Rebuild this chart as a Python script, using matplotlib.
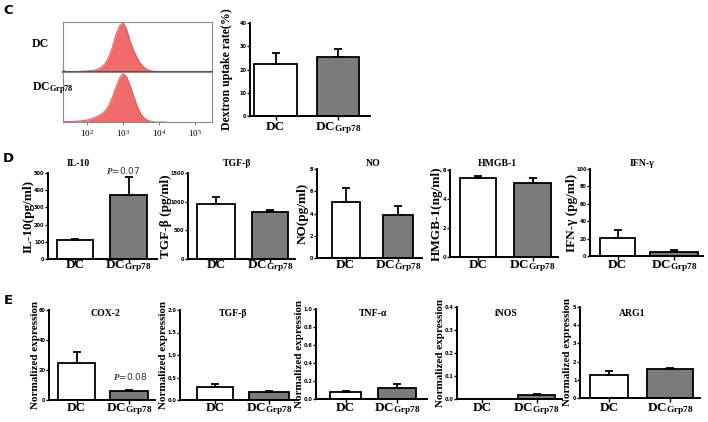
import matplotlib
matplotlib.use("Agg")
import matplotlib.pyplot as plt
import numpy as np

plt.rcParams['mathtext.fontset'] = 'custom'
plt.rcParams['mathtext.rm'] = 'Liberation Serif:bold'
plt.rcParams['mathtext.it'] = 'Liberation Serif:bold:italic'
plt.rcParams['mathtext.bf'] = 'Liberation Serif:bold'

# ---------------- data ----------------
groups = ["DC", r"DC$_{\mathregular{Grp78}}$"]

# flow histogram (log10 bin centres, normalised counts)
hist_log_bins = [1.3, 1.4, 1.5, 1.6, 1.7, 1.8, 1.9, 2.0, 2.1, 2.2, 2.3, 2.4, 2.5, 2.6,
                 2.7, 2.8, 2.9, 3.0, 3.1, 3.2, 3.3, 3.4, 3.5, 3.6, 3.7, 3.8, 3.9, 4.0, 4.1, 4.2]
hist_dc = [0.06, 0.01, 0.01, 0.01, 0.01, 0.01, 0.02, 0.02, 0.03, 0.04, 0.06, 0.10, 0.17, 0.30,
           0.50, 0.75, 0.93, 0.99, 0.85, 0.60, 0.42, 0.27, 0.15, 0.08, 0.04, 0.02, 0.01, 0.005, 0.0, 0.0]
hist_grp78 = [0.01, 0.01, 0.01, 0.01, 0.02, 0.02, 0.03, 0.04, 0.06, 0.09, 0.12, 0.16, 0.22, 0.33,
              0.50, 0.70, 0.88, 0.97, 0.90, 0.72, 0.50, 0.30, 0.15, 0.07, 0.03, 0.01, 0.0, 0.0, 0.0, 0.0]
hist_ticks = [1e2, 1e3, 1e4, 1e5]
hist_ticklabels = [r'$\mathregular{10^{2}}$', r'$\mathregular{10^{3}}$',
                   r'$\mathregular{10^{4}}$', r'$\mathregular{10^{5}}$']

uptake_mean = [22.2, 25.2]
uptake_sem = [4.7, 3.5]

il10_mean = [112, 372]
il10_sem = [6, 105]
tgfb_mean = [955, 825]
tgfb_sem = [120, 25]
no_mean = [5.07, 3.84]
no_sem = [1.26, 0.84]
hmgb1_mean = [5.45, 5.10]
hmgb1_sem = [0.15, 0.33]
ifng_mean = [20.3, 4.2]
ifng_sem = [9.6, 2.7]

cox2_mean = [24.4, 6.0]
cox2_sem = [7.4, 1.0]
tgfb_e_mean = [0.30, 0.17]
tgfb_e_sem = [0.06, 0.04]
tnfa_mean = [0.081, 0.122]
tnfa_sem = [0.012, 0.040]
inos_mean = [0.0, 0.019]
inos_sem = [0.0, 0.004]
arg1_mean = [1.25, 1.58]
arg1_sem = [0.22, 0.07]

# ---------------- figure ----------------
W, H = 708, 422
fig = plt.figure(figsize=(W / 100, H / 100), dpi=100)
fig.patch.set_facecolor('white')

SERIF = 'Liberation Serif'
GRAY = '#7b7b7b'


def px_axes(l, t, r, b):
    return fig.add_axes([l / W, 1 - b / H, (r - l) / W, (b - t) / H])


def ftext(x, y, s, **kw):
    return fig.text(x / W, 1 - y / H, s, **kw)


def bar_panel(l, t, r, b, c0, c1, w0, w1, mean, sem, yticks, yfmt,
              ylabel, ylab_x, ylab_size, title=None, title_xy=None,
              xlab_y=None, xlab_size=9.5):
    ax = px_axes(l, t, r, b)
    unit = c1 - c0
    ax.set_xlim((l - c0) / unit, (r - c0) / unit)
    ax.set_ylim(yticks[0], yticks[-1])
    colors = ['white', GRAY]
    widths = [w0 / unit, w1 / unit]
    for i in range(2):
        ax.bar(i, mean[i], width=widths[i], color=colors[i], edgecolor='black',
               linewidth=1.3, zorder=2)
        if sem[i] > 0:
            ax.errorbar(i, mean[i], yerr=[[0], [sem[i]]], fmt='none', ecolor='black',
                        elinewidth=1.3, capsize=3.2, capthick=1.3, zorder=3)
    for s in ['top', 'right']:
        ax.spines[s].set_visible(False)
    for s in ['left', 'bottom']:
        ax.spines[s].set_linewidth(1.4)
    ax.spines['left'].set_bounds(yticks[0], yticks[-1])
    ax.set_yticks(yticks)
    ax.set_yticklabels([yfmt.format(v) for v in yticks], fontsize=3.6,
                       fontweight='bold', family='DejaVu Sans')
    ax.tick_params(axis='y', length=2, width=1, pad=0.5)
    ax.set_xticks([0, 1])
    ax.set_xticklabels(['', ''])
    ax.tick_params(axis='x', length=3, width=1)
    ax.patch.set_alpha(0)
    # x category labels
    for i, c in enumerate([c0, c1]):
        ftext(c, xlab_y, groups[i], ha='center', va='baseline', family=SERIF,
              fontweight='bold', fontsize=xlab_size)
    ftext(ylab_x, (t + b) / 2, ylabel, rotation=90, ha='center', va='center',
          family=SERIF, fontweight='bold', fontsize=ylab_size)
    if title is not None:
        ftext(title_xy[0], title_xy[1], title, ha='center', va='center',
              family=SERIF, fontweight='bold', fontsize=7)
    return ax


# ---------- panel letters ----------
for lx, ly, s in [(8, 11, 'C'), (8, 158, 'D'), (8, 301, 'E')]:
    ftext(lx, ly, s, ha='center', va='center', fontsize=9.5, fontweight='bold',
          family='DejaVu Sans')

# ---------- panel C histograms ----------
for (t, b, data) in [(22, 72, hist_dc), (72, 122, hist_grp78)]:
    ax = px_axes(63, t, 212, b)
    ax.set_xscale('log')
    ax.set_xlim(10 ** 1.33, 10 ** 5.47)
    ax.set_ylim(0, 1.0)
    xs = 10 ** np.array(hist_log_bins)
    ax.fill_between(xs, 0, data, color='#f26b6b', linewidth=0)
    ax.plot(xs, data, color='#e04848', linewidth=0.6)
    for s in ax.spines.values():
        s.set_color('#8a8a8a')
        s.set_linewidth(0.8)
    ax.set_yticks([])
    ax.minorticks_off()
    if b == 122:
        ax.set_xticks(hist_ticks)
        ax.set_xticklabels(hist_ticklabels, fontsize=6.5, family=SERIF)
        ax.minorticks_off()
        ax.tick_params(axis='x', length=2, width=0.6, color='#666666', pad=2)
    else:
        ax.set_xticks([])
        ax.spines['bottom'].set_color('#555555')
        ax.spines['bottom'].set_linewidth(1.5)
ftext(32, 44, 'DC', ha='left', va='center', family=SERIF, fontweight='bold', fontsize=8.5)
ftext(32, 88, r'DC$_{\mathregular{Grp78}}$', ha='left', va='center', family=SERIF,
      fontweight='bold', fontsize=8.5)

# ---------- panel C bar ----------
bar_panel(250, 23, 370, 116, 275.5, 338, 43, 42, uptake_mean, uptake_sem,
          [0, 10, 20, 30, 40], '{:g}', 'Dextron uptake rate(%)', 227, 8.5,
          xlab_y=130, xlab_size=9.5)

# ---------- panel D ----------
yD = 268
YD = 9.5
bar_panel(48, 173, 157, 259, 75, 128.5, 36, 37, il10_mean, il10_sem,
          [0, 100, 200, 300, 400, 500], '{:g}', 'IL-10(pg/ml)', 29, YD,
          'IL-10', (78, 163), xlab_y=yD)
ftext(123, 170, r'$\mathit{P}$=0.07', ha='center', va='center', family='DejaVu Sans',
      fontsize=6.5, color='#333333')
bar_panel(188, 173, 295, 259, 216, 270, 38, 36, tgfb_mean, tgfb_sem,
          [0, 500, 1000, 1500], '{:g}', 'TGF-β (pg/ml)', 166, YD,
          'TGF-β', (237, 163), xlab_y=yD)
bar_panel(317, 169, 422, 258, 345.5, 398, 28, 30, no_mean, no_sem,
          [0, 2, 4, 6, 8], '{:g}', 'NO(pg/ml)', 303, YD,
          'NO', (373, 163), xlab_y=yD)
bar_panel(450, 170, 558, 257, 478, 532.5, 36, 37, hmgb1_mean, hmgb1_sem,
          [0, 2, 4, 6], '{:g}', 'HMGB-1(ng/ml)', 437, YD,
          'HMGB-1', (497, 163), xlab_y=yD)
bar_panel(590, 169, 703, 256, 617.5, 674, 35, 48, ifng_mean, ifng_sem,
          [0, 20, 40, 60, 80, 100], '{:g}', 'IFN-γ (pg/ml)', 572, YD,
          'IFN-γ', (642, 163), xlab_y=yD)

# ---------- panel E ----------
yE = 411
NE = 'Normalized expression'
bar_panel(49, 310, 155, 400, 76.5, 129, 37, 38, cox2_mean, cox2_sem,
          [0, 20, 40, 60], '{:g}', NE, 35, 8,
          'COX-2', (105, 314), xlab_y=yE)
ftext(130, 377, r'$\mathit{P}$=0.08', ha='center', va='center', family='DejaVu Sans',
      fontsize=6.5, color='#333333')
bar_panel(180, 310, 298, 400, 215, 269, 36, 40, tgfb_e_mean, tgfb_e_sem,
          [0.0, 0.5, 1.0, 1.5, 2.0], '{:.1f}', NE, 164, 8,
          'TGF-β', (233, 314), xlab_y=yE)
bar_panel(316, 309, 427, 399, 345.5, 397, 31, 38, tnfa_mean, tnfa_sem,
          [0.0, 0.2, 0.4, 0.6, 0.8, 1.0], '{:.1f}', NE, 299, 8,
          'TNF-α', (373, 314), xlab_y=yE)
bar_panel(457, 307, 562, 399, 482, 536.5, 37, 37, inos_mean, inos_sem,
          [0.0, 0.1, 0.2, 0.3, 0.4], '{:.1f}', NE, 440, 8,
          'iNOS', (506, 314), xlab_y=yE)
bar_panel(580, 307, 700, 398, 609, 670, 38, 46, arg1_mean, arg1_sem,
          [0, 1, 2, 3, 4, 5], '{:g}', NE, 568, 8,
          'ARG1', (632, 314), xlab_y=yE)

fig.savefig('out.png', dpi=100, facecolor='white')
